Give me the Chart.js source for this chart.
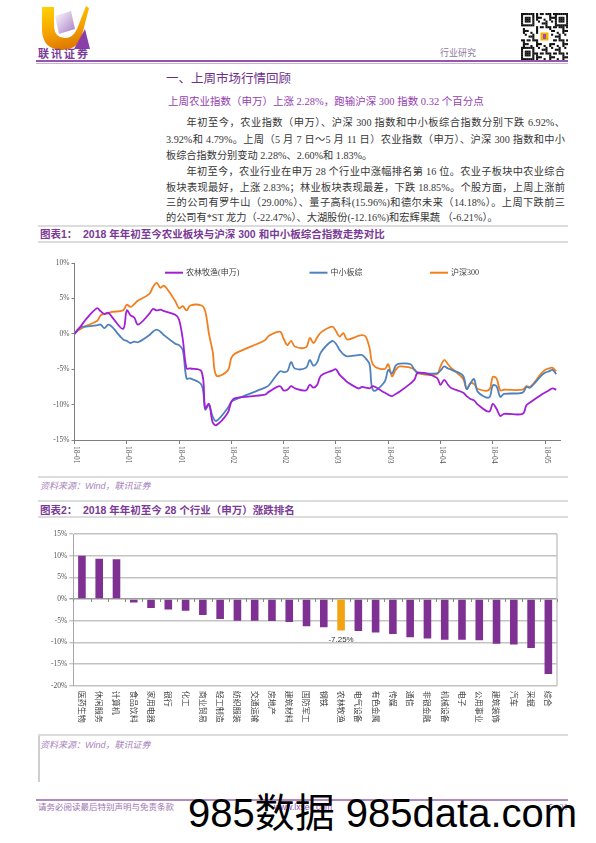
<!DOCTYPE html>
<html><head><meta charset="utf-8">
<script src="https://cdn.jsdelivr.net/npm/chart.js@4/dist/chart.umd.min.js"></script>
<style>
html,body{margin:0;padding:0;background:#fff;}
body{width:596px;height:843px;position:relative;overflow:hidden;font-family:"Liberation Serif","Noto Sans CJK SC",serif;}
.a{position:absolute;}
.rule{position:absolute;left:38px;width:530px;height:2px;background:#dcdcdc;}
.body{position:absolute;left:166px;width:399px;font-size:10.2px;line-height:14px;color:#363636;text-align:justify;text-align-last:justify;}
.ind{left:186.5px;width:378.5px;}
.nj{text-align:left;text-align-last:left;}
.ttl{position:absolute;font-family:"Liberation Sans","Noto Sans CJK SC",sans-serif;font-weight:bold;font-size:10.5px;line-height:14px;color:#7b3a96;white-space:nowrap;}
.src{position:absolute;left:40px;font-style:italic;font-size:9px;line-height:12px;color:#a884bd;font-family:"Liberation Sans","Noto Sans CJK SC",sans-serif;white-space:nowrap;}
</style></head>
<body>
<!-- header -->
<svg class="a" style="left:38px;top:5px" width="56" height="46" viewBox="0 0 56 46">
 <defs>
  <linearGradient id="g1" x1="0" y1="0" x2="0.3" y2="1"><stop offset="0" stop-color="#ffd400"/><stop offset="0.6" stop-color="#f6a300"/><stop offset="1" stop-color="#e07a00"/></linearGradient>
  <linearGradient id="g2" x1="0" y1="0" x2="1" y2="1"><stop offset="0" stop-color="#ffffff"/><stop offset="1" stop-color="#a77cc6"/></linearGradient>
 </defs>
 <path d="M4 2 L16 2 L16 22 Q17 33 27 33 Q35 33 39 24 L48 1 L51 3 L43 34 Q37 45 25 45 Q5 45 4 26 Z" fill="url(#g1)"/>
 <polygon points="17,11 33,6 37,24 21,29" fill="url(#g2)"/>
 <polygon points="36,44 47,24 52,44" fill="#8a3fa8"/>
</svg>
<div class="a" style="left:38px;top:47px;font-family:'Noto Sans CJK SC';font-weight:bold;font-size:11px;line-height:12px;letter-spacing:2px;color:#7a3b98;">联讯证券</div>
<div class="a" style="left:440px;top:47px;font-size:9px;line-height:12px;color:#8d7b9c;">行业研究</div>
<svg id="qr" class="a" style="left:521px;top:13px" width="47" height="47"></svg>
<div class="a" style="left:36px;top:60px;width:532px;height:2px;background:#9356ad;"></div>
<div class="a" style="left:36px;top:63px;width:532px;height:1px;background:#cfaedd;"></div>

<div class="a" style="left:166px;top:70px;font-family:'Noto Sans CJK SC';font-size:12.5px;line-height:16px;color:#6e2f8c;">一、上周市场行情回顾</div>
<div class="a" style="left:168px;top:95px;font-size:10.5px;line-height:14px;color:#9440b0;white-space:nowrap;">上周农业指数（申万）上涨 2.28%，跑输沪深 300 指数 0.32 个百分点</div>

<div class="body ind" style="top:116px">年初至今，农业指数（申万）、沪深 300 指数和中小板综合指数分别下跌 6.92%、</div>
<div class="body" style="top:132.5px">3.92%和 4.79%。上周（5 月 7 日～5 月 11 日）农业指数（申万）、沪深 300 指数和中小</div>
<div class="body nj" style="top:149px">板综合指数分别变动 2.28%、2.60%和 1.83%。</div>
<div class="body ind" style="top:165px">年初至今，农业行业在申万 28 个行业中涨幅排名第 16 位。农业子板块中农业综合</div>
<div class="body" style="top:181px">板块表现最好，上涨 2.83%；林业板块表现最差，下跌 18.85%。个股方面，上周上涨前</div>
<div class="body" style="top:196px">三的公司有罗牛山（29.00%）、量子高科(15.96%)和德尔未来（14.18%）。上周下跌前三</div>
<div class="body nj" style="top:211px">的公司有*ST 龙力（-22.47%）、大湖股份(-12.16%)和宏辉果蔬 （-6.21%）。</div>

<!-- figure 1 -->
<div class="rule" style="top:225px"></div>
<div class="ttl" style="left:40px;top:226.5px">图表1：</div>
<div class="ttl" style="left:83px;top:226.5px">2018 年年初至今农业板块与沪深 300 和中小板综合指数走势对比</div>
<div class="rule" style="top:241px"></div>
<div class="a" style="left:38px;top:246px;width:530px;height:230px;"><canvas id="c1" width="530" height="230"></canvas></div>
<div class="rule" style="top:476px"></div>
<div class="src" style="top:479.5px">资料来源：Wind，联讯证券</div>

<!-- figure 2 -->
<div class="rule" style="top:500px"></div>
<div class="ttl" style="left:40px;top:502.5px">图表2：</div>
<div class="ttl" style="left:83px;top:502.5px">2018 年年初至今 28 个行业（申万）涨跌排名</div>
<div class="rule" style="top:516px"></div>
<div class="a" style="left:38px;top:524px;width:530px;height:208px;"><canvas id="c2" width="530" height="208"></canvas></div>
<div class="rule" style="top:734px"></div>
<div class="src" style="top:739px">资料来源：Wind，联讯证券</div>
<div class="a" style="left:38px;top:736px;width:1.5px;height:46px;background:#cfcfcf;"></div>

<!-- footer -->
<div class="a" style="left:36px;top:799px;width:532px;height:2px;background:#b18ac4;"></div>
<div class="a" style="left:38px;top:802px;font-size:8.5px;line-height:11px;color:#9c74b0;white-space:nowrap;">请务必阅读最后特别声明与免责条款</div>
<div class="a" style="left:274px;top:802px;font-size:8.5px;line-height:11px;color:#8a4fa8;font-family:'Liberation Sans';">www.lxsec.com</div>
<div class="a" style="left:540px;top:802px;width:28px;text-align:right;font-size:8.5px;line-height:11px;color:#8a4fa8;">5 / 21</div>
<div class="a" style="left:188px;top:793px;font-family:'Liberation Sans','Noto Sans CJK SC',sans-serif;font-size:40px;line-height:40px;color:#000;white-space:nowrap;">985数据 985data.com</div>

<script>
// ---------------- Chart 1 data ----------------
const tradeDates = ['01-02','01-03','01-04','01-05','01-08','01-09','01-10','01-11','01-12','01-15','01-16','01-17','01-18','01-19','01-22','01-23','01-24','01-25','01-26','01-29','01-30','01-31',
 '02-01','02-02','02-05','02-06','02-07','02-08','02-09','02-12','02-13','02-14','02-22','02-23','02-26','02-27','02-28',
 '03-01','03-02','03-05','03-06','03-07','03-08','03-09','03-12','03-13','03-14','03-15','03-16','03-19','03-20','03-21','03-22','03-23','03-26','03-27','03-28','03-29','03-30',
 '04-02','04-03','04-04','04-09','04-10','04-11','04-12','04-13','04-16','04-17','04-18','04-19','04-20','04-23','04-24','04-25','04-26','04-27',
 '05-02','05-03','05-04','05-07','05-08','05-09','05-10','05-11'];
const agriIndex = [0,0.6,1.3,2.0,3.6,3.2,2.8,3.0,2.4,0.7,3.3,2.6,2.3,1.3,2.8,3.5,3.3,3.4,3.2,2.7,2.0,-0.8,
 -4.9,-4.9,-5.3,-10.5,-9.9,-12.5,-12.9,-11.2,-9.6,-9.1,-8.6,-8.2,-7.4,-8.0,-7.9,
 -7.4,-7.7,-8.0,-7.2,-7.6,-7.2,-5.9,-5.2,-5.0,-5.8,-6.3,-6.8,-7.7,-7.5,-7.6,-7.7,-7.4,-8.3,-8.6,-8.8,-8.5,-8.2,
 -7.0,-6.5,-5.5,-6.2,-7.2,-6.5,-7.2,-7.7,-8.3,-8.8,-9.2,-9.4,-10.0,-11.0,-9.9,-10.6,-11.6,-11.3,
 -11.3,-10.1,-9.7,-8.6,-8.3,-8.0,-7.7,-7.9];
const smeIndex = [0,0.7,1.0,1.0,1.2,1.3,0.8,1.3,1.0,-0.8,-1.0,-1.3,-1.1,-1.2,-0.2,0.3,0.6,0.3,-0.2,-1.4,-1.6,-2.3,
 -6.3,-6.3,-7.2,-10.7,-10.0,-11.7,-12.3,-10.5,-9.6,-9.3,-7.6,-7.3,-5.3,-5.4,-5.3,
 -4.0,-4.9,-4.8,-3.7,-4.5,-4.0,-2.6,-1.0,-1.4,-2.3,-2.9,-3.2,-3.0,-3.0,-3.5,-4.3,-8.0,-6.8,-5.1,-5.6,-4.5,-4.2,
 -4.3,-5.1,-5.5,-5.6,-5.2,-4.6,-4.9,-5.1,-5.9,-7.8,-7.0,-6.4,-8.2,-9.0,-7.3,-7.4,-8.9,-8.5,
 -8.3,-7.5,-7.6,-5.9,-5.5,-5.3,-5.1,-5.7];
const hs300Index = [0,0.5,0.8,1.1,1.8,2.6,2.8,2.9,3.1,3.3,4.1,3.8,4.2,4.7,5.6,6.6,7.2,6.5,6.8,4.6,3.6,3.9,
 3.3,4.0,4.0,3.2,0.0,-2.5,-5.9,-5.2,-3.4,-2.8,-0.9,-0.3,0.3,-0.7,-1.6,
 -1.0,-1.8,-1.9,-0.6,-1.3,-0.5,0.2,1.0,0.4,-0.4,0.1,-0.8,-0.3,-0.2,-0.4,-2.0,-4.4,-5.0,-4.3,-6.0,-5.1,-4.6,
 -4.8,-5.0,-5.6,-5.7,-4.6,-3.7,-4.3,-4.9,-6.3,-7.8,-7.0,-7.1,-7.8,-7.9,-6.1,-6.3,-8.0,-7.9,
 -7.9,-7.4,-7.5,-5.6,-5.1,-4.9,-4.8,-5.3];
const seriesNames = ['农林牧渔(申万)','中小板综','沪深300'];
const seriesColors = ['#a21fd6','#4f81bd','#f07f1e'];
const xTickDates = ['01-02','01-16','01-30','02-13','02-27','03-13','03-27','04-10','04-24','05-08'];
const xTickLabels = ['18-01','18-01','18-01','18-02','18-02','18-03','18-03','18-04','18-04','18-05'];
const yTicks1 = [-15,-10,-5,0,5,10];

// ---------------- Chart 2 data ----------------
const industries = ['医药生物','休闲服务','计算机','食品饮料','家用电器','银行','化工','商业贸易','轻工制造','纺织服装','交通运输','房地产','建筑材料','国防军工','钢铁','农林牧渔','电气设备','有色金属','传媒','通信','非银金融','机械设备','电子','公用事业','建筑装饰','汽车','采掘','综合'];
const industryReturns = [10.0,9.3,9.2,-0.8,-2.1,-2.4,-2.7,-3.7,-4.6,-5.0,-5.0,-5.1,-5.3,-6.3,-6.5,-7.25,-7.4,-7.7,-8.1,-8.8,-9.1,-9.4,-9.4,-9.5,-10.3,-10.5,-11.3,-17.3];
const highlightIndustry = '农林牧渔';
const yTicks2 = [-20,-15,-10,-5,0,5,10,15];

function dayOf(md){const [m,d]=md.split('-').map(Number);return (Date.UTC(2018,m-1,d)-Date.UTC(2018,0,1))/86400000;}

// ---------------- QR decoration ----------------
(function(){const svg=document.getElementById('qr');const n=25,m=47/n;let s='';
 const finder=(i,j,r,c)=>{const a=i-r,b=j-c;if(a<0||b<0||a>6||b>6)return null;return (a==0||a==6||b==0||b==6||(a>=2&&a<=4&&b>=2&&b<=4));};
 for(let i=0;i<n;i++)for(let j=0;j<n;j++){let on=finder(i,j,0,0);if(on===null)on=finder(i,j,0,n-7);if(on===null)on=finder(i,j,n-7,0);
  if(on===null){if((i==7||j==7)&&(i<8&&j<8))on=false;else if(i>=9&&i<=15&&j>=9&&j<=15)on=false;else on=((i*i*3+j*7+i*j*5+j*j)%7)<3;}
  if(on)s+=`<rect x="${(j*m).toFixed(2)}" y="${(i*m).toFixed(2)}" width="${(m+0.2).toFixed(2)}" height="${(m+0.2).toFixed(2)}" fill="#111"/>`;}
 s+=`<rect x="18" y="18" width="11" height="11" fill="#fff"/><rect x="19.5" y="19.5" width="8" height="8" fill="#f5b400"/><rect x="22" y="21" width="3" height="5" fill="#9a4fb8"/>`;
 svg.innerHTML=s;})();

// ---------------- Chart 1 ----------------
const legend1 = {id:'legend1', afterDraw(chart){const {ctx,chartArea:a}=chart;const xs=[90.5,235,355.5];const y=a.top+9.7;
 ctx.save();chart.data.datasets.forEach((ds,i)=>{const x=a.left+xs[i];ctx.strokeStyle=ds.borderColor;ctx.lineWidth=2;ctx.beginPath();ctx.moveTo(x,y);ctx.lineTo(x+18,y);ctx.stroke();
  ctx.fillStyle='#404040';ctx.font='8px "Liberation Serif","Noto Sans CJK SC"';ctx.textBaseline='middle';ctx.textAlign='left';ctx.fillText(ds.label,x+21,y);});ctx.restore();}};
const xlab1 = {id:'xlab1', afterDraw(chart){const {ctx,chartArea:a,scales:{x}}=chart;ctx.save();ctx.fillStyle='#555';ctx.font='7.5px "Liberation Serif"';ctx.textAlign='left';ctx.textBaseline='middle';
 x.ticks.forEach((t,i)=>{const px=x.getPixelForValue(t.value);ctx.save();ctx.translate(px+1.5,a.bottom+6);ctx.rotate(Math.PI/2);ctx.fillText(xTickLabels[i],0,0);ctx.restore();});ctx.restore();}};

new Chart(document.getElementById('c1'),{type:'line',
 data:{datasets:[agriIndex,smeIndex,hs300Index].map((arr,k)=>({label:seriesNames[k],data:tradeDates.map((d,i)=>({x:dayOf(d),y:arr[i]})),borderColor:seriesColors[k],backgroundColor:seriesColors[k],borderWidth:1.8,pointRadius:0,tension:0.35,fill:false}))},
 options:{responsive:false,animation:false,devicePixelRatio:1,
  layout:{padding:{left:0,right:8,top:17,bottom:0}},
  plugins:{legend:{display:false},tooltip:{enabled:false}},
  scales:{
   x:{type:'linear',min:dayOf(tradeDates[0]),max:dayOf('05-12'),
      afterBuildTicks:s=>{s.ticks=xTickDates.map(d=>({value:dayOf(d)}));},
      ticks:{display:false},grid:{drawOnChartArea:false,color:'#7f7f7f',tickLength:4},border:{color:'#7f7f7f'},
      afterFit:s=>{s.height=36;}},
   y:{min:yTicks1[0],max:yTicks1[yTicks1.length-1],
      afterBuildTicks:s=>{s.ticks=yTicks1.map(v=>({value:v}));},
      ticks:{callback:v=>v+'%',font:{family:'Liberation Serif',size:7.5},color:'#555',padding:2},
      grid:{drawOnChartArea:false,color:'#7f7f7f',tickLength:3},border:{color:'#7f7f7f'},
      afterFit:s=>{s.width=36.5;}}
  }},
 plugins:[legend1,xlab1]});

// ---------------- Chart 2 ----------------
const deco2 = {id:'deco2', afterDraw(chart){const {ctx,chartArea:a,scales:{x,y}}=chart;ctx.save();
 ctx.strokeStyle='#c0c0c0';ctx.lineWidth=1.3;ctx.beginPath();ctx.moveTo(a.right,a.top);ctx.lineTo(a.right,a.bottom);ctx.stroke();
 const y0=y.getPixelForValue(0);ctx.strokeStyle='#8c8c8c';ctx.lineWidth=1;
 for(let i=0;i<=industries.length;i++){const px=Math.round(x.getPixelForValue(i-0.5))+0.5;ctx.beginPath();ctx.moveTo(px,y0);ctx.lineTo(px,y0+3);ctx.stroke();}
 ctx.fillStyle='#444';ctx.font='8px "Noto Sans CJK SC"';ctx.textAlign='left';ctx.textBaseline='middle';
 industries.forEach((lab,i)=>{const px=x.getPixelForValue(i);ctx.save();ctx.translate(px,a.bottom+5);ctx.rotate(Math.PI/2);ctx.fillText(lab,0,0);ctx.restore();});
 const idx=industries.indexOf(highlightIndustry);const el=chart.getDatasetMeta(0).data[idx];
 ctx.fillStyle='#333';ctx.font='8px "Liberation Sans"';ctx.textAlign='center';ctx.textBaseline='middle';
 ctx.fillText(industryReturns[idx].toFixed(2)+'%',el.x,el.y+9);
 ctx.restore();}};

new Chart(document.getElementById('c2'),{type:'bar',
 data:{labels:industries,datasets:[{data:industryReturns,backgroundColor:industries.map(n=>n===highlightIndustry?'#f2a30f':'#7f3193'),borderWidth:0,barPercentage:0.44,categoryPercentage:1}]},
 options:{responsive:false,animation:false,devicePixelRatio:1,
  layout:{padding:{left:0,right:11,top:10,bottom:0}},
  plugins:{legend:{display:false},tooltip:{enabled:false}},
  scales:{
   x:{ticks:{display:false},grid:{display:false},border:{display:false},afterFit:s=>{s.height=46.3;}},
   y:{min:yTicks2[0],max:yTicks2[yTicks2.length-1],
      afterBuildTicks:s=>{s.ticks=yTicks2.map(v=>({value:v}));},
      ticks:{callback:v=>v+'%',font:{family:'Liberation Serif',size:7.5},color:'#555',padding:2},
      grid:{color:c=>(c.tick&&c.tick.value===0)?'#9a9a9a':'#c3c3c3',lineWidth:1.4,tickLength:4},
      border:{color:'#a8a8a8'},afterFit:s=>{s.width=35.3;}}
  }},
 plugins:[deco2]});
</script>
</body></html>
